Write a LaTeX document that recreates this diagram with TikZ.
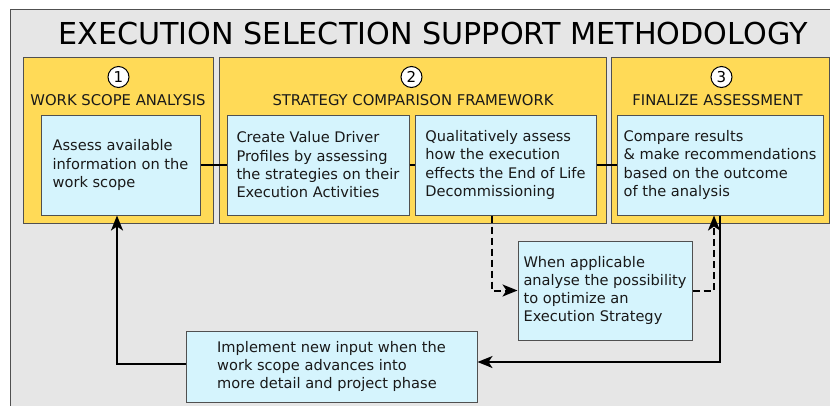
\documentclass[tikz,border=0pt]{standalone}
\usepackage{fontspec}
\setmainfont{DejaVu Sans}
\usetikzlibrary{arrows.meta,positioning}

\definecolor{panelgray}{HTML}{E6E6E6}
\definecolor{phaseyellow}{HTML}{FFDA57}
\definecolor{taskblue}{HTML}{D5F4FD}
\definecolor{edgegray}{HTML}{505050}

\tikzset{
  phase/.style={draw=edgegray, fill=phaseyellow, line width=1pt, inner sep=0pt},
  task/.style={draw=edgegray, fill=taskblue, line width=1pt, align=left, inner sep=0pt,
    text=black!90, font=\fontsize{14.6}{18.3}\selectfont},
  num/.style={circle, draw=black, fill=white, line width=1pt, inner sep=0pt,
    minimum size=21pt, font=\fontsize{15}{15}\selectfont},
  phasetitle/.style={text=black!90, font=\fontsize{14.8}{17}\selectfont},
  link/.style={line width=2pt},
  flow/.style={line width=2pt, -{Stealth[length=15pt,width=12pt,inset=4pt]}},
  option/.style={flow, dash pattern=on 7pt off 4pt},
}

\begin{document}
\begin{tikzpicture}[x=1pt, y=-1pt]
\useasboundingbox (0,0) rectangle (830,405);
\fill[white] (0,0) rectangle (830,405);
\draw[draw=edgegray, fill=panelgray, line width=1pt] (10,9) rectangle (850,425);

\node[font=\fontsize{30.2}{36}\selectfont] (title) at (433,34) {EXECUTION SELECTION SUPPORT METHODOLOGY};

% the three phases
\node[phase, minimum width=190pt, minimum height=166pt] (ph1) at (118,140) {};
\node[phase, minimum width=387pt, minimum height=166pt] (ph2) at (412.5,140) {};
\node[phase, minimum width=218pt, minimum height=166pt] (ph3) at (720,140) {};

\node[num] (n1) at (118.5,77) {1};
\node[num] (n2) at (411.5,77) {2};
\node[num] (n3) at (721.5,77) {3};

\node[phasetitle] (t1) at (118,100) {WORK SCOPE ANALYSIS};
\node[phasetitle] (t2) at (413,100) {STRATEGY COMPARISON FRAMEWORK};
\node[phasetitle] (t3) at (717.5,100) {FINALIZE ASSESSMENT};

% steps
\node[task, minimum width=159pt, minimum height=100pt] (scope) at (120.5,165)
  {Assess available\\information on the\\work scope};
\node[task, minimum width=182pt, minimum height=100pt] (profiles) at (318,165)
  {Create Value Driver\\Profiles by assessing\\the strategies on their\\Execution Activities};
\node[task, minimum width=181pt, minimum height=100pt] (eol) at (505.5,165)
  {Qualitatively assess\\how the execution\\effects the End of Life\\Decommissioning};
\node[task, minimum width=206pt, minimum height=100pt] (compare) at (720,165)
  {Compare results\\\& make recommendations\\based on the outcome\\of the analysis};
\node[task, minimum width=174pt, minimum height=99pt] (optimize) at (605,290.5)
  {When applicable\\analyse the possibility\\to optimize an\\Execution Strategy};
\node[task, minimum width=291pt, minimum height=71pt] (update) at (331.5,366.5)
  {Implement new input when the\\work scope advances into\\more detail and project phase};

\draw[link] (scope) -- (profiles);
\draw[link] (profiles) -- (eol);
\draw[link] (eol) -- (compare);

\draw[option] ([xshift=-13.5pt]eol.south) |- (optimize.west);
\draw[option] (optimize.east) -| ([xshift=-6pt]compare.south);

\draw[flow] (compare.south) |- ([yshift=4.5pt]update.east);
\draw[flow] ([yshift=2.5pt]update.west) -| ([xshift=-3.5pt]scope.south);
\end{tikzpicture}
\end{document}
